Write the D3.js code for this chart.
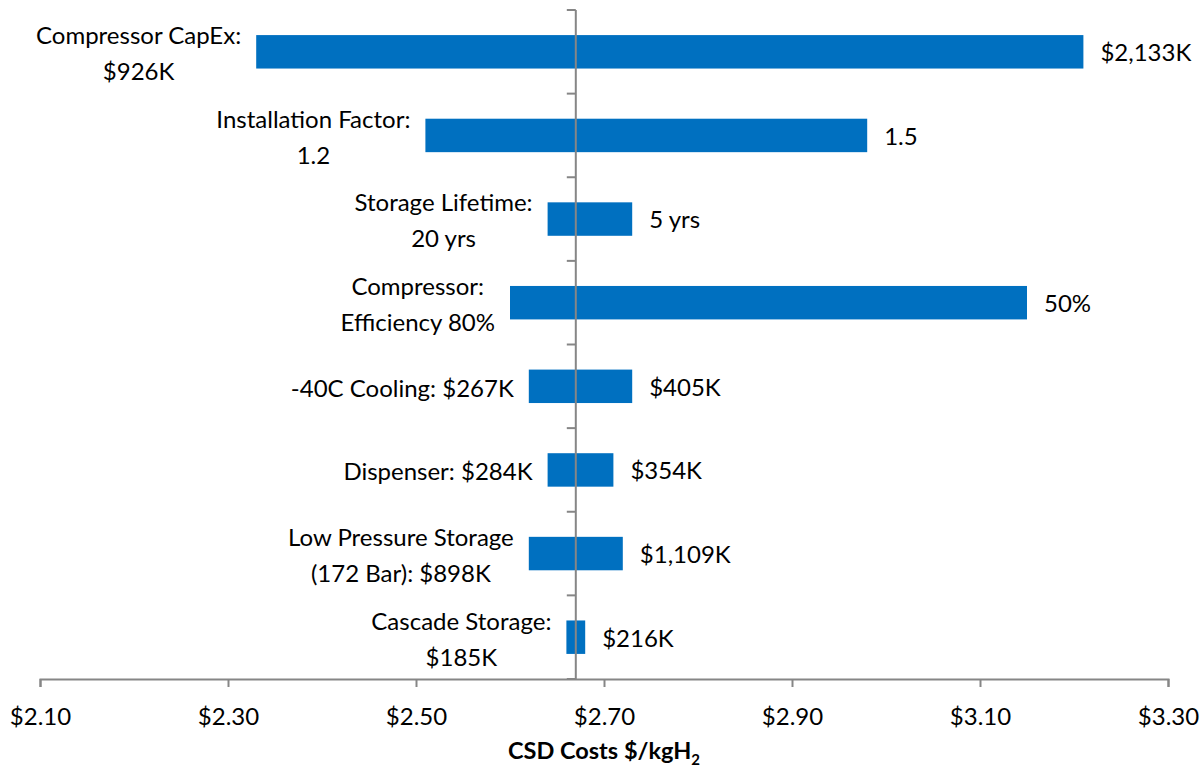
<!DOCTYPE html>
<html><head><meta charset="utf-8">
<script src="https://cdn.jsdelivr.net/npm/d3@7"></script>
<style>body{margin:0;background:#fff}svg{display:block}text{font-family:Lato,"Open Sans",sans-serif;fill:#000}</style>
</head><body>
<svg id="c" width="1204" height="769"></svg>
<script>
const leftLabels = [
  ["Compressor CapEx:", "$926K"],
  ["Installation Factor:", "1.2"],
  ["Storage Lifetime:", "20 yrs"],
  ["Compressor:", "Efficiency 80%"],
  ["-40C Cooling: $267K"],
  ["Dispenser: $284K"],
  ["Low Pressure Storage", "(172 Bar): $898K"],
  ["Cascade Storage:", "$185K"]
];
const rightLabels = ["$2,133K", "1.5", "5 yrs", "50%", "$405K", "$354K", "$1,109K", "$216K"];
const lowValues  = [2.33, 2.51, 2.64, 2.60, 2.62, 2.64, 2.62, 2.66];
const highValues = [3.21, 2.98, 2.73, 3.15, 2.73, 2.71, 2.72, 2.68];
const baseValue = 2.67;
const xTicks = [2.10, 2.30, 2.50, 2.70, 2.90, 3.10, 3.30];

const FS = 24;
const svg = d3.select("#c");
const x = d3.scaleLinear().domain([2.10, 3.30]).range([40, 1168]);
const idx = d3.range(leftLabels.length);
const y = d3.scaleBand().domain(idx).range([10, 679]).paddingInner(0.6).paddingOuter(0.3);
const grey = "#868686";

// bars
svg.selectAll("rect.bar").data(idx).enter().append("rect")
  .attr("x", i => x(lowValues[i]))
  .attr("width", i => x(highValues[i]) - x(lowValues[i]))
  .attr("y", i => y(i))
  .attr("height", y.bandwidth())
  .attr("fill", "#0070C0");

// x axis
const xAxis = d3.axisBottom(x).tickValues(xTicks).tickSize(8).tickFormat(d => "$" + d.toFixed(2));
const gx = svg.append("g").attr("transform", "translate(0,679)").call(xAxis);
gx.select(".domain").attr("stroke", grey).attr("stroke-width", 2);
gx.selectAll(".tick line").attr("stroke", grey).attr("stroke-width", 2);
gx.selectAll(".tick text").attr("font-size", FS).attr("y", 46).attr("dy", 0)
  .style("font-family", "Lato, 'Open Sans', sans-serif").attr("fill", "#000");

// vertical axis at base value
const yTickPos = d3.range(leftLabels.length + 1).map(i => 10 + i * (669 / leftLabels.length));
svg.append("line").attr("x1", x(baseValue)).attr("x2", x(baseValue)).attr("y1", 10).attr("y2", 679)
  .attr("stroke", grey).attr("stroke-width", 2);
svg.selectAll("line.yt").data(yTickPos).enter().append("line")
  .attr("x1", x(baseValue) - 9).attr("x2", x(baseValue)).attr("y1", d => d).attr("y2", d => d)
  .attr("stroke", grey).attr("stroke-width", 2);

// left labels
const lh = 36;
idx.forEach(i => {
  const lines = leftLabels[i];
  const cy = y(i) + y.bandwidth() / 2 + 2;
  const t = svg.append("text").attr("font-size", FS).attr("text-anchor", "middle");
  lines.forEach((l, k) => {
    t.append("tspan").text(l)
      .attr("y", cy + (k - (lines.length - 1) / 2) * lh).attr("dy", "0.35em");
  });
  let w = 0;
  t.selectAll("tspan").each(function(){ w = Math.max(w, this.getComputedTextLength()); });
  const cx = x(lowValues[i]) - 15 - w / 2;
  t.selectAll("tspan").attr("x", cx);
});

// right labels
svg.selectAll("text.rl").data(idx).enter().append("text")
  .attr("x", i => x(highValues[i]) + 17)
  .attr("y", i => y(i) + y.bandwidth() / 2 + 1)
  .attr("dy", "0.35em").attr("font-size", FS)
  .text(i => rightLabels[i]);

// axis title
const title = svg.append("text").attr("x", 604).attr("y", 759).attr("text-anchor", "middle")
  .attr("font-size", 23.5).attr("font-weight", "bold");
title.append("tspan").text("CSD Costs $/kgH");
title.append("tspan").text("2").attr("font-size", 15).attr("dy", 6);
</script>
</body></html>
